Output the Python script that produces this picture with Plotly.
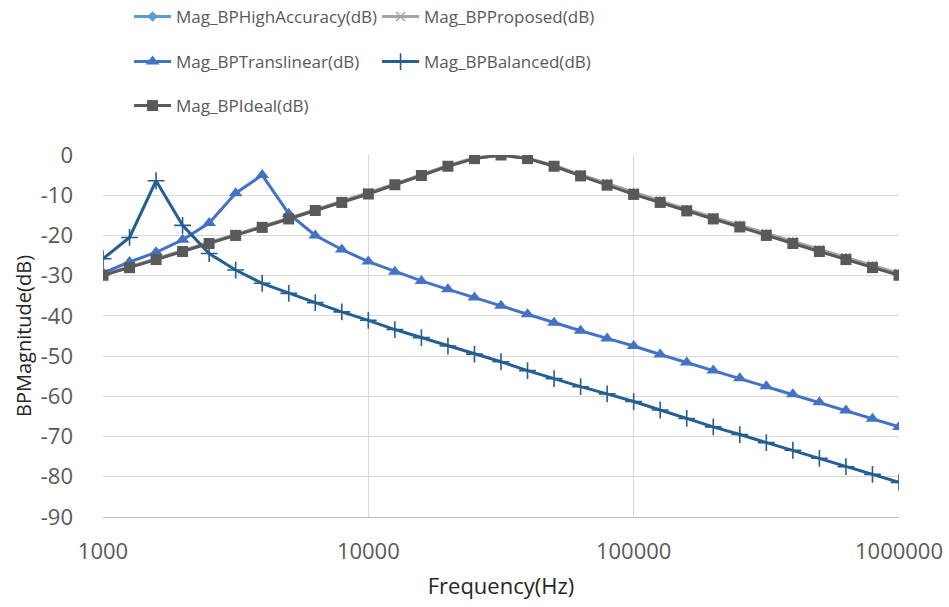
import plotly.graph_objects as go

# Frequency sweep, 10 points per decade (Hz)
freq_hz = [1000, 1259, 1585, 1995, 2512, 3162, 3981, 5012, 6310, 7943,
           10000, 12589, 15849, 19953, 25119, 31623, 39811, 50119, 63096, 79433,
           100000, 125893, 158489, 199526, 251189, 316228, 398107, 501187, 630957, 794328,
           1000000]

# Band-pass magnitude responses (dB)
mag_high_accuracy = [-29.9, -27.9, -25.9, -23.9, -21.9, -19.8, -17.8, -15.8, -13.7, -11.6,
                     -9.5, -7.3, -5.0, -2.7, -0.8, 0.0, -0.8, -2.7, -5.0, -7.2,
                     -9.4, -11.5, -13.6, -15.6, -17.6, -19.6, -21.6, -23.6, -25.6, -27.6,
                     -29.6]
mag_proposed = [-29.8, -27.8, -25.8, -23.8, -21.8, -19.7, -17.7, -15.7, -13.6, -11.5,
                -9.4, -7.2, -4.9, -2.6, -0.7, -0.1, -0.8, -2.6, -4.9, -7.1,
                -9.3, -11.4, -13.5, -15.5, -17.5, -19.5, -21.5, -23.5, -25.5, -27.4,
                -29.4]
mag_translinear = [-29.3, -26.6, -24.2, -21.1, -16.9, -9.5, -5.0, -14.6, -20.0, -23.5,
                   -26.5, -29.0, -31.3, -33.4, -35.4, -37.5, -39.6, -41.7, -43.7, -45.6,
                   -47.5, -49.6, -51.6, -53.6, -55.5, -57.5, -59.5, -61.5, -63.5, -65.6,
                   -67.6]
mag_balanced = [-25.8, -20.5, -6.4, -17.5, -24.5, -28.6, -31.9, -34.4, -36.7, -39.0,
                -41.1, -43.4, -45.4, -47.5, -49.5, -51.4, -53.6, -55.6, -57.6, -59.4,
                -61.3, -63.4, -65.5, -67.6, -69.5, -71.5, -73.4, -75.4, -77.5, -79.4,
                -81.4]
mag_ideal = [-29.9, -28.0, -26.0, -24.0, -22.0, -20.0, -18.0, -15.9, -13.8, -11.8,
             -9.7, -7.4, -5.1, -2.8, -0.9, 0.0, -0.9, -2.8, -5.2, -7.5,
             -9.8, -11.8, -13.9, -15.9, -17.9, -20.0, -22.0, -24.0, -26.0, -28.0,
             -29.9]

x_tick_vals = [1000, 10000, 100000, 1000000]
x_tick_text = ["1000", "10000", "100000", "1000000"]
y_tick_vals = [0, -10, -20, -30, -40, -50, -60, -70, -80, -90]
y_tick_text = ["0", "-10", "-20", "-30", "-40", "-50", "-60", "-70", "-80", "-90"]

FONT = "Open Sans, sans-serif"

series = [
    ("Mag_BPHighAccuracy(dB)", mag_high_accuracy, "#5B9BD5",
     dict(symbol="diamond", size=8), "legend"),
    ("Mag_BPProposed(dB)", mag_proposed, "#A5A5A5",
     dict(symbol="x-thin", size=9, line=dict(width=1.5, color="#A5A5A5")), "legend"),
    ("Mag_BPTranslinear(dB)", mag_translinear, "#4472C4",
     dict(symbol="triangle-up", size=12), "legend2"),
    ("Mag_BPBalanced(dB)", mag_balanced, "#255E91",
     dict(symbol="cross-thin", size=12, line=dict(width=1.6, color="#255E91")), "legend2"),
    ("Mag_BPIdeal(dB)", mag_ideal, "#595959",
     dict(symbol="square", size=11), "legend3"),
]

fig = go.Figure()
for name, values, color, marker, legend_id in series:
    fig.add_trace(go.Scatter(
        x=freq_hz, y=values, name=name, mode="lines+markers",
        line=dict(color=color, width=3),
        marker=dict(color=color, **marker),
        legend=legend_id,
    ))

legend_common = dict(
    orientation="h", xanchor="left", yanchor="middle",
    xref="container", yref="container",
    font=dict(family=FONT, size=17, color="#595959"),
    itemwidth=37, entrywidth=196, entrywidthmode="pixels",
    bgcolor="rgba(0,0,0,0)", tracegroupgap=0,
)

fig.update_layout(
    width=949, height=607,
    margin=dict(l=103, r=50, t=155, b=90, autoexpand=False),
    plot_bgcolor="white", paper_bgcolor="white",
    showlegend=True,
    legend=dict(x=0.136, y=1 - 17 / 607, **legend_common),
    legend2=dict(x=0.136, y=1 - 62 / 607, **legend_common),
    legend3=dict(x=0.136, y=1 - 106 / 607, **legend_common),
    xaxis=dict(
        type="log", range=[3, 6], automargin=False,
        tickvals=x_tick_vals, ticktext=x_tick_text,
        tickfont=dict(family=FONT, size=22, color="#595959"),
        ticklabelstandoff=14,
        showgrid=True, gridcolor="#D9D9D9", gridwidth=1.3,
        showline=True, linecolor="#BFBFBF", linewidth=1.3,
        zeroline=False, ticks="",
        title=dict(text="Frequency(Hz)", standoff=15,
                   font=dict(family=FONT, size=22, color="#262626")),
    ),
    yaxis=dict(
        range=[-90, 0], automargin=False,
        tickvals=y_tick_vals, ticktext=y_tick_text,
        tickfont=dict(family=FONT, size=22, color="#595959"),
        ticklabelstandoff=29,
        showgrid=True, gridcolor="#D9D9D9", gridwidth=1.3,
        showline=False, zeroline=False, ticks="",
        title=dict(text="BPMagnitude(dB)", standoff=3,
                   font=dict(family=FONT, size=20, color="#262626")),
    ),
)

fig.write_html("out.html")
